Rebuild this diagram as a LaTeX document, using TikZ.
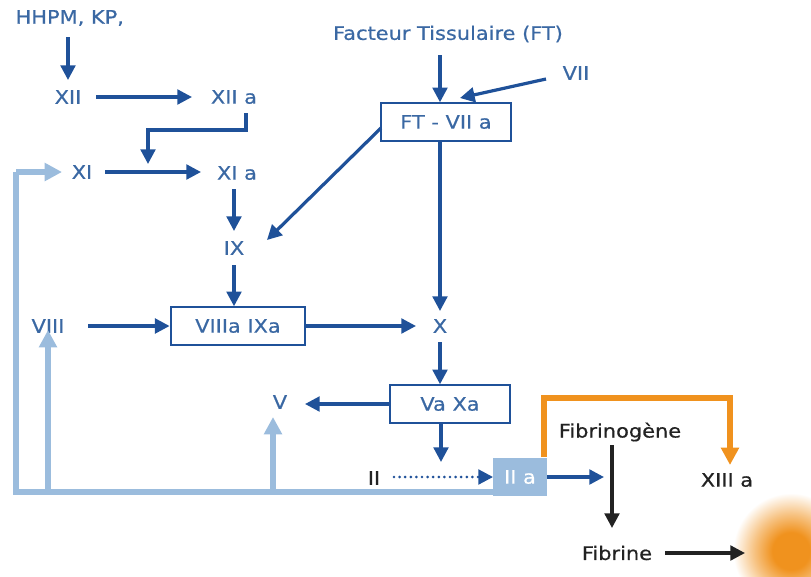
\documentclass[tikz,border=0pt]{standalone}
\usepackage{fontspec}
\setmainfont{DejaVu Sans}[FakeStretch=1.12,FakeBold=0.6]
\usetikzlibrary{arrows.meta}
\definecolor{dblue}{HTML}{1F5199}
\definecolor{tblue}{HTML}{3A68A3}
\definecolor{lblue}{HTML}{9BBCDD}
\definecolor{orng}{HTML}{F0921E}
\definecolor{dgray}{HTML}{222222}
\tikzset{
  lbl/.style={text=tblue, font=\fontsize{14}{16}\selectfont, inner sep=1pt},
  blk/.style={text=dgray, font=\fontsize{14}{16}\selectfont, inner sep=1pt},
  boxn/.style={lbl, draw=dblue, line width=1.6pt, minimum height=28pt, inner xsep=6pt},
  arr/.style={draw=dblue, line width=2.4pt, -{Triangle[length=11pt,width=11pt]}},
  dotarr/.style={draw=dblue, line width=2.2pt, line cap=round, dash pattern=on 0pt off 4.2pt, -{Triangle[length=11pt,width=11pt]}},
  larr/.style={draw=lblue, line width=4pt, -{Triangle[length=13pt,width=13pt]}},
  lline/.style={draw=lblue, line width=4pt},
  oarr/.style={draw=orng, line width=4pt, -{Triangle[length=13pt,width=13pt]}},
  karr/.style={draw=dgray, line width=2.4pt, -{Triangle[length=11pt,width=11pt]}},
}
\pgfdeclareradialshading{blob}{\pgfpoint{0bp}{0bp}}{%
  color(0bp)=(orng); color(8bp)=(orng); color(16bp)=(orng!55!white); color(25bp)=(white); color(50bp)=(white)}
\begin{document}
\begin{tikzpicture}[x=0.75pt,y=-0.75pt]
\useasboundingbox (0,0) rectangle (811,576);
% nodes
\node[lbl, anchor=west] (hk) at (14,18) {HHPM, KP,};
\node[lbl] (xii) at (68,97) {XII};
\node[lbl] (xiia) at (234,97) {XII a};
\node[lbl] (xi) at (82,172) {XI};
\node[lbl] (xia) at (237,173) {XI a};
\node[lbl] (ix) at (234,248) {IX};
\node[boxn, minimum width=101pt] (b89) at (238,326) {VIIIa IXa};
\node[lbl] (viii) at (48,326) {VIII};
\node[lbl] (x) at (440,326) {X};
\node[lbl] (ft) at (448,34) {Facteur Tissulaire (FT)};
\node[lbl] (vii) at (576,73) {VII};
\node[boxn, minimum width=97pt] (ftb) at (446,122) {FT - VII a};
\node[boxn, minimum width=90pt] (vx) at (450,404) {Va Xa};
\node[lbl] (v) at (280,402) {V};
\node[blk] (ii) at (374,478) {II};
\node[lbl, fill=lblue, text=white, minimum width=40pt, minimum height=29pt] (iia) at (520,477) {II a};
\node[blk] (fbg) at (620,432) {Fibrinogène};
\node[blk] (xiii) at (727,480) {XIII a};
\node[blk] (fbn) at (617,553) {Fibrine};
% coordinates
\coordinate (c1) at (246,113);
\coordinate (c2) at (148,164);
\coordinate (lb0) at (16,492);
\coordinate (lbe) at (493,492);
\coordinate (lxi) at (62,172);
\coordinate (lviii) at (48,492);
\coordinate (lv) at (273,492);
\coordinate (orngend) at (730,465);
\coordinate (fbgend) at (604,478);
\coordinate (fbnend) at (745,553);
% blob
\shade[shading=blob] (791,551) circle (58);
% light blue feedback
\draw[lline] (lbe) -- (lb0) -- (16,172);
\draw[larr] (16,172) -- (lxi);
\draw[larr] (lviii) -- (48,330);
\draw[larr] (lv) -- (273,417);
% dark blue arrows
\draw[arr] (68,37) -- (68,80);
\draw[arr] (96,97) -- (192,97);
\draw[arr] (c1) |- (148,130) -- (c2);
\draw[arr] (105,172) -- (201,172);
\draw[arr] (234,189) -- (234,231);
\draw[arr] (234,265) -- (234,0 |- b89.north);
\draw[arr] (88,326) -- (b89.west);
\draw[arr] (b89.east) -- (416,326);
\draw[arr] (440,55) -- (440,0 |- ftb.north);
\draw[arr] (546,79) -- (460,98);
\draw[arr] (381,128) -- (267,240);
\draw[arr] (440,0 |- ftb.south) -- (440,311);
\draw[arr] (440,342) -- (440,0 |- vx.north);
\draw[arr] (vx.west) -- (305,404);
\draw[arr] (441,0 |- vx.south) -- (441,462);
\draw[dotarr] (394,0 |- iia.west) -- (iia.west);
\draw[arr] (iia.east) -- (iia.east -| fbgend);
% orange
\draw[oarr] (544,457) |- (730,398) -- (orngend);
% black
\draw[karr] (612,445) -- (612,528);
\draw[karr] (665,553) -- (fbnend);
\end{tikzpicture}
\end{document}
